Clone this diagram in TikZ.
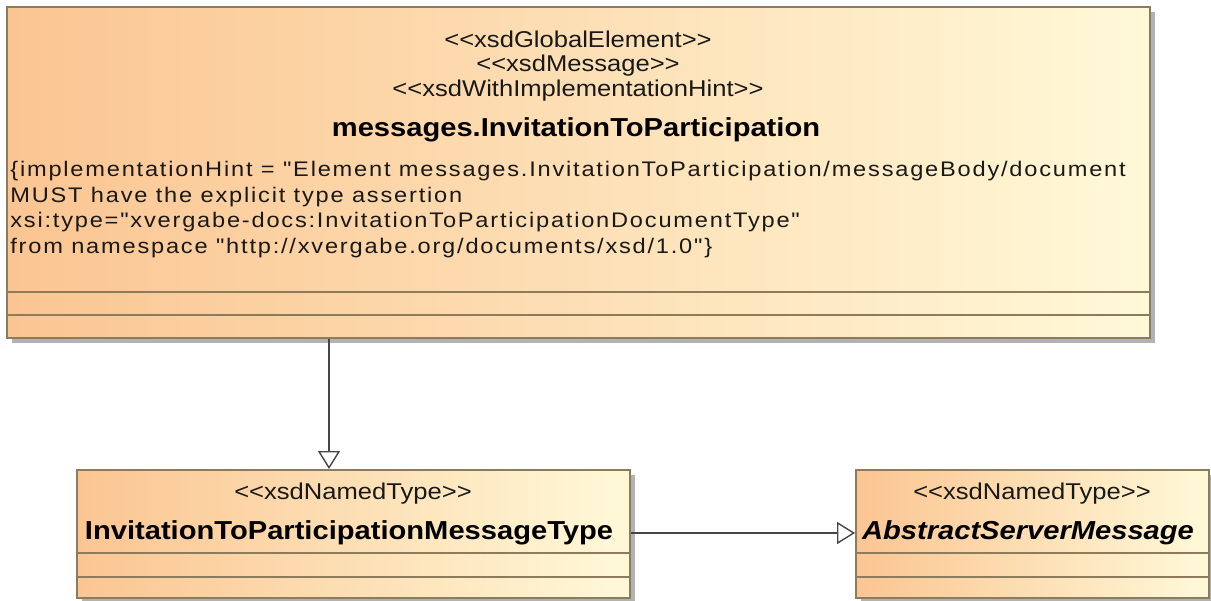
\documentclass[tikz,border=0pt]{standalone}
\usepackage{fontspec}
\setmainfont{Liberation Sans}
\newfontfamily\umlfont[FakeStretch=1.12]{Liberation Sans}
\newfontfamily\hintfont[FakeStretch=1.12,LetterSpace=8.5]{Liberation Sans}
\usepackage{tikz}
\usetikzlibrary{positioning}
\usetikzlibrary{arrows.meta}
\usetikzlibrary{shadows}

\definecolor{boxleft}{RGB}{251,197,146}
\definecolor{boxright}{RGB}{255,249,216}
\definecolor{boxline}{RGB}{140,124,92}
\definecolor{arrline}{RGB}{70,70,70}

\begin{document}
\begin{tikzpicture}[
    x=0.02cm, y=-0.02cm,
    umlbox/.style={draw=boxline, line width=1.1pt, left color=boxleft, right color=boxright, inner sep=0pt,
        drop shadow={shadow xshift=0.1cm, shadow yshift=-0.1cm, fill=black!30, opacity=1}},
    sep/.style={draw=boxline, line width=1.1pt},
    stereo/.style={anchor=base, inner sep=0pt, font=\umlfont\fontsize{13}{15}\selectfont, text=black!90},
    title/.style={anchor=base, inner sep=0pt, font=\umlfont\bfseries\fontsize{14.8}{17}\selectfont},
    hint/.style={anchor=base west, inner sep=0pt, font=\hintfont\fontsize{12}{14}\selectfont, text=black!90},
    inherit/.style={draw=arrline, line width=0.8pt, -{Triangle[open, length=0.36cm, width=0.44cm, fill=white]}}
    ]
    \useasboundingbox (0,0) rectangle (1211,601);

    % Classi
    \node[umlbox, minimum width=22.86cm, minimum height=6.62cm] (msg) at (578.5,172.5) {};
    \node[umlbox, minimum width=11.06cm, minimum height=2.56cm] (msgtype) at (353.5,534) {};
    \node[umlbox, minimum width=7.06cm, minimum height=2.56cm] (abstract) at (1032.5,534) {};

    % Compartimenti
    \draw[sep] (msg.west |- 0,292) -- (msg.east |- 0,292);
    \draw[sep] (msg.west |- 0,315) -- (msg.east |- 0,315);
    \draw[sep] (msgtype.west |- 0,553) -- (msgtype.east |- 0,553);
    \draw[sep] (msgtype.west |- 0,577) -- (msgtype.east |- 0,577);
    \draw[sep] (abstract.west |- 0,553) -- (abstract.east |- 0,553);
    \draw[sep] (abstract.west |- 0,577) -- (abstract.east |- 0,577);

    % Testi della classe superiore
    \node[stereo] (st1) at (578,48) {<<xsdGlobalElement>>};
    \node[stereo] (st2) at (578,72) {<<xsdMessage>>};
    \node[stereo] (st3) at (578,97) {<<xsdWithImplementationHint>>};
    \node[title] (msgname) at (576,137) {messages.InvitationToParticipation};
    \node[hint] (h1) at (10,177) {\{implementationHint = "Element messages.InvitationToParticipation/messageBody/document};
    \node[hint] (h2) at (10,203) {MUST have the explicit type assertion};
    \node[hint] (h3) at (10,228) {xsi:type="xvergabe-docs:InvitationToParticipationDocumentType"};
    \node[hint] (h4) at (10,254) {from namespace "http://xvergabe.org/documents/xsd/1.0"\}};

    % Testi delle classi inferiori
    \node[stereo] (st4) at (353,499) {<<xsdNamedType>>};
    \node[title] (typename) at (349,539) {InvitationToParticipationMessageType};
    \node[stereo] (st5) at (1032,499) {<<xsdNamedType>>};
    \node[title, font=\umlfont\bfseries\itshape\fontsize{14.8}{17}\selectfont] (absname) at (1028,539) {AbstractServerMessage};

    % Generalizzazioni
    \draw[inherit] (msg.south -| 329,0) -- (msgtype.north -| 329,0);
    \draw[inherit] (msgtype.east |- 0,533) -- (abstract.west |- 0,533);
\end{tikzpicture}
\end{document}
